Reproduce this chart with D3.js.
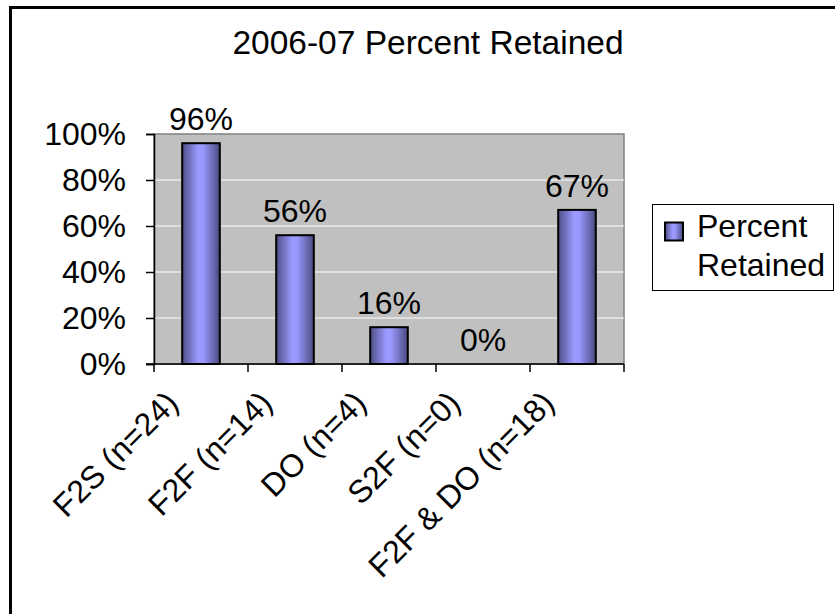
<!DOCTYPE html>
<html>
<head>
<meta charset="utf-8">
<script src="https://cdn.jsdelivr.net/npm/d3@7/dist/d3.min.js"></script>
<style>
  html, body { margin: 0; padding: 0; background: #fff; }
  svg { display: block; }
  text { font-family: "Liberation Sans", Arial, Helvetica, sans-serif; fill: #000; }
</style>
</head>
<body>
<svg id="chart" width="835" height="614"></svg>
<script>
const title = "2006-07 Percent Retained";
const categories = ["F2S (n=24)", "F2F (n=14)", "DO (n=4)", "S2F (n=0)", "F2F & DO (n=18)"];
const values = [0.96, 0.56, 0.16, 0, 0.67];
const valueLabels = ["96%", "56%", "16%", "0%", "67%"];
const yTicks = [0, 0.2, 0.4, 0.6, 0.8, 1.0];
const seriesName = ["Percent", "Retained"];

const svg = d3.select("#chart");
const fontSize = 32;

// gradient for bars
const defs = svg.append("defs");
const grad = defs.append("linearGradient").attr("id", "barGrad")
  .attr("x1", "0%").attr("x2", "100%").attr("y1", "0%").attr("y2", "0%");
[[0, "#4e4e86"], [0.42, "#9999ff"], [0.55, "#9999ff"], [1, "#4a4a80"]]
  .forEach(([o, c]) => grad.append("stop").attr("offset", o).attr("stop-color", c));

// outer chart border (extends beyond canvas on right/bottom)
svg.append("rect").attr("x", 10.5).attr("y", 7.5).attr("width", 840).attr("height", 620)
  .attr("fill", "#fff").attr("stroke", "#000").attr("stroke-width", 3);

const plot = { left: 154, right: 624, top: 134, bottom: 364 };

const x = d3.scaleBand().domain(categories).range([plot.left, plot.right]).padding(0);
const y = d3.scaleLinear().domain([0, 1]).range([plot.bottom, plot.top]);

// plot area
svg.append("rect").attr("x", plot.left).attr("y", plot.top)
  .attr("width", plot.right - plot.left).attr("height", plot.bottom - plot.top)
  .attr("fill", "#c0c0c0").attr("stroke", "#808080").attr("stroke-width", 1.5);

// gridlines
svg.append("g").selectAll("line").data(yTicks.filter(d => d > 0 && d < 1)).join("line")
  .attr("x1", plot.left).attr("x2", plot.right)
  .attr("y1", d => y(d)).attr("y2", d => y(d))
  .attr("stroke", "#ffffff").attr("stroke-width", 1);

// title
svg.append("text").attr("x", 428).attr("y", 54).attr("text-anchor", "middle")
  .attr("font-size", 33.5).text(title);

// y axis
const yAxis = d3.axisLeft(y).tickValues(yTicks).tickSize(8).tickPadding(20)
  .tickFormat(d => d3.format(".0%")(d));
const yg = svg.append("g").attr("transform", `translate(${plot.left},0)`).call(yAxis);
yg.select(".domain").attr("stroke", "#000").attr("stroke-width", 1.5);
yg.selectAll(".tick line").attr("stroke", "#000").attr("stroke-width", 1.5);
yg.selectAll(".tick text").attr("font-size", fontSize)
  .attr("font-family", "Liberation Sans, Arial, sans-serif").attr("fill", "#000");

// x axis (ticks at category boundaries)
const xg = svg.append("g");
xg.append("line").attr("x1", plot.left - 8).attr("x2", plot.right)
  .attr("y1", plot.bottom).attr("y2", plot.bottom)
  .attr("stroke", "#000").attr("stroke-width", 1.5);
const boundaries = categories.map(c => x(c)).concat([x(categories[categories.length - 1]) + x.bandwidth()]);
xg.selectAll("line.tk").data(boundaries).join("line").attr("class", "tk")
  .attr("x1", d => d).attr("x2", d => d)
  .attr("y1", plot.bottom).attr("y2", plot.bottom + 8)
  .attr("stroke", "#000").attr("stroke-width", 1.5);

// x labels rotated
xg.selectAll("text.xl").data(categories).join("text").attr("class", "xl")
  .attr("text-anchor", "end").attr("font-size", fontSize)
  .attr("transform", d => `translate(${x(d) + x.bandwidth() / 2 - 21},${plot.bottom + 41}) rotate(-45)`)
  .text(d => d);

// bars
const barW = x.bandwidth() * 0.4;
svg.append("g").selectAll("rect").data(values).join("rect")
  .attr("x", (d, i) => x(categories[i]) + (x.bandwidth() - barW) / 2)
  .attr("width", barW)
  .attr("y", d => y(d))
  .attr("height", d => y(0) - y(d))
  .attr("fill", "url(#barGrad)")
  .attr("stroke", "#000").attr("stroke-width", d => d > 0 ? 2 : 0);

// value labels
svg.append("g").selectAll("text").data(values).join("text")
  .attr("x", (d, i) => x(categories[i]) + x.bandwidth() / 2)
  .attr("y", d => y(d) - 13)
  .attr("text-anchor", "middle").attr("font-size", fontSize)
  .text((d, i) => valueLabels[i]);

// legend
const lg = svg.append("g");
lg.append("rect").attr("x", 652.5).attr("y", 204.5).attr("width", 181).attr("height", 86)
  .attr("fill", "#fff").attr("stroke", "#000").attr("stroke-width", 1);
lg.append("rect").attr("x", 665).attr("y", 222.5).attr("width", 18).attr("height", 18)
  .attr("fill", "url(#barGrad)").attr("stroke", "#000").attr("stroke-width", 2);
lg.selectAll("text").data(seriesName).join("text")
  .attr("x", 697).attr("y", (d, i) => 237 + i * 39)
  .attr("font-size", fontSize).text(d => d);
</script>
</body>
</html>
